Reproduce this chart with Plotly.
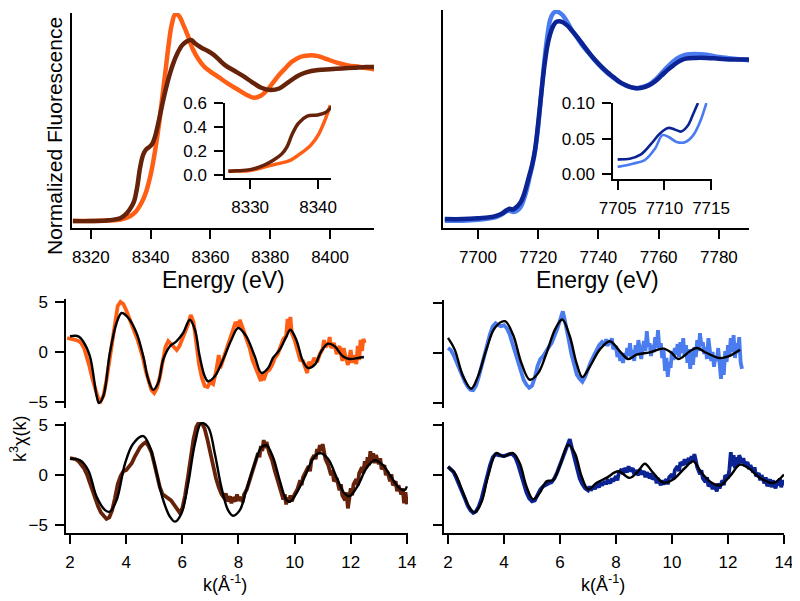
import plotly.graph_objects as go

# the page body adds an 8 px margin, so the figure is drawn 8 px smaller and shifted
OFF = 8
W, H = 800 - OFF, 601 - OFF

# ---- XANES, top left (Cu edge) ----
e_cu_orange = [8314, 8320, 8326, 8330, 8333, 8335, 8337, 8338.5, 8340, 8341, 8342, 8343, 8344, 8345, 8346,
               8347, 8348.3, 8349.5, 8351, 8352.5, 8354, 8356, 8358, 8360, 8363, 8366, 8369, 8372, 8374.5,
               8377, 8379, 8381, 8383, 8385, 8387, 8389, 8391, 8393, 8396, 8399, 8402, 8406, 8410, 8415]
mu_cu_orange = [0.0, 0.0, 0.003, 0.01, 0.03, 0.06, 0.12, 0.19, 0.30, 0.40, 0.52, 0.66, 0.82, 0.98, 1.14,
                1.27, 1.345, 1.33, 1.27, 1.20, 1.12, 1.05, 1.00, 0.97, 0.93, 0.89, 0.855, 0.82, 0.80,
                0.815, 0.85, 0.90, 0.95, 0.99, 1.03, 1.055, 1.07, 1.075, 1.07, 1.05, 1.03, 1.01, 1.00, 0.985]

e_cu_brown = [8314, 8320, 8326, 8330, 8332, 8333.5, 8334.5, 8335.5, 8336.5, 8337.5, 8338.5, 8339.5, 8340.5,
              8341.5, 8342.5, 8343.5, 8344.5, 8345.5, 8346.5, 8347.5, 8349, 8350.5, 8352, 8353.5, 8355,
              8357, 8359, 8361, 8363, 8365, 8368, 8371, 8374, 8377, 8380, 8383, 8386, 8389, 8392, 8396,
              8400, 8404, 8408, 8412, 8415]
mu_cu_brown = [0.0, 0.0, 0.005, 0.02, 0.05, 0.09, 0.13, 0.22, 0.35, 0.43, 0.465, 0.48, 0.50,
               0.55, 0.63, 0.72, 0.81, 0.89, 0.96, 1.02, 1.09, 1.14, 1.165, 1.175, 1.15,
               1.125, 1.105, 1.08, 1.045, 1.01, 0.975, 0.94, 0.90, 0.865, 0.85, 0.86, 0.90, 0.94, 0.965, 0.98,
               0.985, 0.99, 0.995, 1.0, 1.0]

# inset, pre-edge region
e_cu_in_orange = [8326.8, 8328, 8330, 8332.5, 8334.1, 8335.9, 8337.4, 8338.9, 8340.1, 8341.1, 8341.8]
mu_cu_in_orange = [0.028, 0.03, 0.035, 0.07, 0.092, 0.12, 0.176, 0.245, 0.34, 0.47, 0.58]
e_cu_in_brown = [8326.8, 8328, 8330, 8332, 8333.4, 8334.7, 8335.4, 8336.2, 8337.1, 8338.4, 8339.9, 8341.1, 8342]
mu_cu_in_brown = [0.028, 0.032, 0.042, 0.078, 0.12, 0.176, 0.23, 0.34, 0.43, 0.49, 0.50, 0.52, 0.57]

# ---- XANES, top right (Co edge) ----
e_co = [7689, 7695, 7700, 7704, 7706, 7708, 7709.5, 7710.5, 7711.5, 7712.5, 7714, 7715, 7716, 7717, 7718,
        7719, 7720, 7721, 7722, 7723, 7724, 7725, 7726, 7727, 7728, 7729.5, 7731, 7733, 7735, 7737, 7739,
        7741, 7743, 7745, 7747, 7749, 7751, 7753, 7755, 7757, 7759, 7761, 7763, 7765, 7767, 7769, 7772,
        7776, 7780, 7785, 7790]
mu_co_dark = [0.0, 0.0, 0.005, 0.012, 0.02, 0.035, 0.055, 0.065, 0.06, 0.07, 0.10, 0.14, 0.20, 0.27, 0.34,
              0.44, 0.60, 0.78, 0.95, 1.08, 1.16, 1.21, 1.235, 1.24, 1.235, 1.215, 1.185, 1.14, 1.09, 1.04, 0.995,
              0.955, 0.92, 0.89, 0.86, 0.84, 0.825, 0.82, 0.825, 0.84, 0.865, 0.90, 0.935, 0.965, 0.99, 1.005, 1.01,
              1.01, 1.005, 1.0, 1.0]
mu_co_light = [-0.01, -0.01, -0.005, 0.005, 0.012, 0.03, 0.05, 0.052, 0.045, 0.048, 0.07, 0.11, 0.17, 0.25, 0.33,
               0.43, 0.58, 0.78, 0.98, 1.14, 1.25, 1.29, 1.30, 1.295, 1.28, 1.24, 1.19, 1.135, 1.08, 1.035, 0.99,
               0.95, 0.915, 0.885, 0.858, 0.838, 0.825, 0.82, 0.83, 0.845, 0.875, 0.915, 0.955, 0.99, 1.015, 1.03, 1.035,
               1.03, 1.015, 1.005, 0.995]

e_co_in_dark = [7705, 7706.3, 7707.5, 7708.6, 7709.5, 7710.4, 7711.1, 7711.8, 7712.5, 7713.1, 7713.6]
mu_co_in_dark = [0.021, 0.022, 0.028, 0.043, 0.057, 0.065, 0.063, 0.06, 0.068, 0.085, 0.10]
e_co_in_light = [7705, 7706.6, 7707.9, 7709, 7709.8, 7710.5, 7711.3, 7712.2, 7713.1, 7713.8, 7714.5]
mu_co_in_light = [0.0105, 0.015, 0.02, 0.036, 0.055, 0.052, 0.0455, 0.045, 0.055, 0.073, 0.10]

# ---- EXAFS k^3 chi(k) ----
exafs_orange = [
    (1.9, 1.4), (2.0, 1.35), (2.1, 1.3), (2.2, 1.2), (2.3, 1.1), (2.4, 0.9), (2.5, 0.4), (2.6, -0.5),
    (2.7, -1.5), (2.8, -2.7), (2.9, -3.8), (3.0, -4.6), (3.1, -4.9), (3.2, -4.3), (3.3, -2.8), (3.4, -0.9),
    (3.5, 1.0), (3.6, 3.0), (3.7, 4.6), (3.8, 5.0), (3.9, 4.8), (4.0, 4.2), (4.1, 3.4), (4.2, 2.7),
    (4.3, 2.0), (4.4, 1.3), (4.5, 0.4), (4.6, -0.6), (4.7, -1.9), (4.8, -3.0), (4.9, -3.8), (5.0, -4.1),
    (5.1, -3.6), (5.2, -2.5), (5.3, -0.9), (5.4, 0.5), (5.5, 1.1), (5.6, 0.8), (5.7, 0.5), (5.8, 0.2),
    (5.9, 0.6), (6.0, 1.3), (6.1, 1.9), (6.2, 2.7), (6.3, 3.7), (6.4, 3.0), (6.5, 0.9), (6.6, -1.3),
    (6.7, -2.6), (6.8, -3.4), (6.9, -3.5), (7.0, -3.0), (7.1, -3.2), (7.2, -2.0), (7.3, -0.3), (7.35, -1.6),
    (7.4, -1.2), (7.5, -0.3), (7.6, 0.5), (7.7, 1.4), (7.8, 2.2), (7.9, 3.0), (8.0, 2.5), (8.05, 3.2),
    (8.1, 2.8), (8.2, 2.0), (8.3, 1.3), (8.4, 0.4), (8.5, -0.8), (8.6, -1.5), (8.7, -2.4), (8.8, -2.9),
    (8.85, -2.2), (8.9, -2.8), (9.0, -2.0), (9.1, -1.8), (9.2, -1.3), (9.3, -0.6), (9.4, -0.2), (9.5, 0.5),
    (9.6, 1.3), (9.7, 1.6), (9.75, 3.3), (9.8, 2.0), (9.85, 3.5), (9.9, 1.9), (10.0, 1.2), (10.1, 0.2),
    (10.2, -0.8), (10.3, -0.9), (10.4, -1.6), (10.45, -2.1), (10.5, -1.0), (10.6, -1.3), (10.7, -0.6),
    (10.8, -1.0), (10.9, -0.2), (11.0, 0.3), (11.05, 1.2), (11.1, 0.5), (11.2, 0.8), (11.25, 1.5),
    (11.3, 0.4), (11.4, 0.9), (11.5, -0.2), (11.6, 0.6), (11.7, -0.9), (11.75, 0.4), (11.8, -0.3),
    (11.9, -1.3), (12.0, 0.2), (12.05, -1.1), (12.1, -0.3), (12.2, -1.2), (12.25, 0.6), (12.3, -0.8),
    (12.35, 1.2), (12.4, 0.1), (12.45, 1.3), (12.5, 0.9)]
fit_orange = [
    (2.0, 1.57), (2.3, 1.57), (2.47, 1.07), (2.71, -0.43), (2.95, -4.4), (3.03, -5.1), (3.19, -4.4),
    (3.42, -0.1), (3.66, 2.9), (3.84, 3.9), (4.08, 3.4), (4.37, 1.9), (4.61, -0.43), (4.79, -2.77),
    (4.96, -3.77), (5.14, -3.1), (5.32, -0.77), (5.56, 0.57), (5.79, 1.07), (6.03, 1.9), (6.27, 3.23),
    (6.45, 2.23), (6.62, -0.43), (6.8, -2.43), (6.92, -2.93), (7.16, -2.43), (7.45, -0.77), (7.75, 1.23),
    (7.99, 2.4), (8.28, 1.57), (8.58, -0.43), (8.82, -2.1), (9.06, -1.6), (9.23, -0.6), (9.47, 0.23),
    (9.71, 1.57), (9.85, 2.23), (10.06, 1.23), (10.3, -0.93), (10.48, -1.6), (10.72, -1.27), (10.95, 0.07),
    (11.19, 0.83), (11.43, 0.57), (11.72, -0.43), (11.96, -0.7), (12.26, -0.6), (12.47, -0.5)]

exafs_brown = [
    (2.0, 1.7), (2.1, 1.65), (2.2, 1.6), (2.3, 1.4), (2.4, 1.1), (2.5, 0.7), (2.6, 0.1), (2.7, -0.7),
    (2.8, -1.6), (2.9, -2.4), (3.0, -3.1), (3.1, -3.7), (3.2, -4.1), (3.3, -4.35), (3.4, -4.2), (3.5, -3.5),
    (3.6, -2.3), (3.7, -0.9), (3.8, -0.1), (3.9, 0.4), (4.0, 0.5), (4.1, 0.8), (4.2, 1.2), (4.3, 1.8),
    (4.4, 2.3), (4.5, 2.8), (4.6, 3.1), (4.7, 3.3), (4.8, 2.9), (4.9, 2.3), (5.0, 1.2), (5.1, -0.1),
    (5.2, -1.2), (5.3, -1.9), (5.4, -2.1), (5.5, -2.2), (5.6, -2.5), (5.7, -2.9), (5.8, -3.3), (5.9, -3.7),
    (6.0, -3.3), (6.1, -2.0), (6.2, -0.2), (6.3, 1.9), (6.4, 3.6), (6.5, 4.8), (6.6, 5.3), (6.7, 5.2),
    (6.8, 4.6), (6.9, 3.5), (7.0, 2.2), (7.1, 0.9), (7.2, -0.3), (7.3, -1.2), (7.4, -1.9), (7.5, -2.3),
    (7.55, -1.8), (7.6, -2.6), (7.7, -2.1), (7.75, -2.8), (7.8, -2.2), (7.9, -2.6), (7.95, -1.9),
    (8.0, -2.5), (8.1, -2.2), (8.15, -2.7), (8.2, -1.9), (8.3, -1.4), (8.4, -0.5), (8.5, 0.4), (8.6, 1.2),
    (8.7, 2.2), (8.75, 1.8), (8.8, 2.9), (8.85, 2.4), (8.9, 3.5), (8.95, 2.7), (9.0, 3.3), (9.1, 2.2),
    (9.2, 1.5), (9.3, 0.4), (9.4, -0.6), (9.5, -1.5), (9.6, -2.4), (9.65, -1.9), (9.7, -2.9), (9.75, -2.2),
    (9.8, -2.7), (9.85, -2.0), (9.9, -2.6), (10.0, -1.9), (10.1, -1.4), (10.2, -0.5), (10.25, -1.0),
    (10.3, -0.2), (10.4, 0.3), (10.5, 0.9), (10.55, 0.4), (10.6, 1.5), (10.7, 2.0), (10.75, 1.6),
    (10.8, 2.6), (10.85, 2.1), (10.9, 3.0), (10.95, 2.4), (11.0, 3.1), (11.05, 2.0), (11.1, 1.6),
    (11.2, 1.0), (11.3, 0.0), (11.35, 0.5), (11.4, -0.6), (11.5, -0.3), (11.6, -1.5), (11.65, -0.9),
    (11.7, -2.0), (11.8, -2.5), (11.85, -1.7), (11.9, -3.3), (11.95, -2.4), (12.0, -1.3), (12.05, -2.0),
    (12.1, -0.9), (12.2, -0.4), (12.25, -1.0), (12.3, 0.2), (12.4, 0.8), (12.45, 0.2), (12.5, 1.4),
    (12.55, 0.7), (12.6, 1.8), (12.65, 1.0), (12.7, 2.4), (12.75, 1.3), (12.8, 2.2), (12.85, 1.2),
    (12.9, 2.0), (13.0, 1.1), (13.05, 1.7), (13.1, 0.6), (13.2, 1.0), (13.25, 0.0), (13.3, 0.4),
    (13.4, -0.6), (13.45, 0.1), (13.5, -1.0), (13.6, -0.6), (13.65, -1.6), (13.7, -1.0), (13.8, -1.9),
    (13.85, -1.3), (13.9, -2.8), (13.95, -1.7), (14.0, -2.9)]
fit_brown = [
    (2.0, 1.65), (2.36, 1.49), (2.65, 0.5), (2.95, -2.15), (3.25, -3.47), (3.42, -3.63), (3.66, -2.48),
    (3.96, 1.16), (4.25, 3.14), (4.61, 3.9), (4.85, 2.8), (5.09, 0.17), (5.32, -2.48), (5.56, -4.13),
    (5.74, -4.62), (5.97, -3.8), (6.21, -0.83), (6.45, 3.14), (6.68, 5.18), (6.92, 4.79), (7.16, 2.15),
    (7.39, -1.16), (7.63, -3.47), (7.81, -4.03), (8.05, -3.47), (8.28, -1.49), (8.58, 1.16), (8.82, 2.8),
    (9.0, 2.97), (9.23, 1.82), (9.47, -0.5), (9.71, -2.48), (9.83, -2.64), (10.06, -1.82), (10.36, -0.17),
    (10.66, 1.65), (10.89, 2.21), (11.19, 1.65), (11.49, -0.17), (11.78, -1.82), (11.96, -2.08),
    (12.26, -1.0), (12.55, 0.66), (12.85, 1.49), (13.15, 1.0), (13.44, -0.17), (13.74, -1.32),
    (13.92, -1.49), (14.0, -1.1)]

exafs_light = [
    (2.0, 0.5), (2.1, 0.3), (2.2, -0.2), (2.3, -0.9), (2.4, -1.6), (2.5, -2.3), (2.6, -2.9), (2.7, -3.4),
    (2.8, -3.7), (2.9, -3.75), (3.0, -3.3), (3.1, -2.4), (3.2, -1.3), (3.3, -0.2), (3.4, 0.9), (3.5, 1.9),
    (3.6, 2.7), (3.7, 3.0), (3.8, 2.8), (3.9, 2.7), (4.0, 2.8), (4.1, 2.5), (4.2, 1.9), (4.3, 1.0),
    (4.4, 0.0), (4.5, -1.0), (4.6, -1.9), (4.7, -2.7), (4.8, -3.2), (4.9, -3.5), (5.0, -3.3), (5.1, -2.5),
    (5.2, -1.3), (5.3, -0.6), (5.4, -0.3), (5.5, 0.2), (5.6, 0.6), (5.7, 1.0), (5.8, 1.6), (5.9, 2.4),
    (6.0, 3.3), (6.05, 3.8), (6.1, 4.2), (6.15, 3.6), (6.2, 3.0), (6.3, 1.5), (6.4, 0.0), (6.5, -1.2),
    (6.6, -2.2), (6.7, -2.6), (6.8, -2.9), (6.9, -2.4), (7.0, -1.6), (7.1, -0.9), (7.2, -0.3), (7.3, 0.3),
    (7.4, 0.8), (7.5, 1.1), (7.6, 0.8), (7.65, 1.4), (7.7, 0.7), (7.75, 1.3), (7.8, 0.9), (7.85, 1.5),
    (7.9, 0.4), (8.0, 0.7), (8.05, -0.4), (8.1, 0.2), (8.15, -0.8), (8.2, -0.1), (8.25, -1.0), (8.3, 0.0),
    (8.35, -0.6), (8.4, 0.5), (8.45, -0.3), (8.5, 1.0), (8.55, -0.5), (8.6, 0.3), (8.65, -0.8), (8.7, 0.8),
    (8.75, -0.2), (8.8, 1.3), (8.85, 0.1), (8.9, -0.6), (8.95, 0.4), (9.0, 1.2), (9.05, 0.2), (9.1, 2.2),
    (9.15, 0.6), (9.2, 1.0), (9.25, -0.3), (9.3, 0.8), (9.35, 0.1), (9.4, 1.6), (9.45, 0.5), (9.5, 2.3),
    (9.55, 0.4), (9.6, 1.0), (9.65, -0.5), (9.7, 0.3), (9.75, -1.8), (9.8, -0.5), (9.85, -2.4), (9.9, -0.9),
    (9.95, -1.5), (10.0, 0.2), (10.05, -0.7), (10.1, 0.5), (10.15, -0.2), (10.2, 0.9), (10.25, -0.4),
    (10.3, 1.1), (10.35, 0.0), (10.4, 1.5), (10.45, -0.3), (10.5, 0.8), (10.55, -1.0), (10.6, 0.4),
    (10.65, -1.6), (10.7, 0.1), (10.75, -1.2), (10.8, 0.6), (10.85, -0.4), (10.9, 1.3), (10.95, 0.2),
    (11.0, 2.0), (11.05, 0.7), (11.1, 1.1), (11.15, -0.1), (11.2, 0.6), (11.25, -0.6), (11.3, 1.5),
    (11.35, 0.3), (11.4, -0.8), (11.45, 0.1), (11.5, -1.4), (11.55, -0.3), (11.6, -0.8), (11.65, 0.5),
    (11.7, -1.1), (11.75, -2.6), (11.8, -0.6), (11.85, -2.2), (11.9, 0.2), (11.95, -0.9), (12.0, 0.8),
    (12.05, -0.2), (12.1, 1.5), (12.15, 0.1), (12.2, 1.8), (12.25, -0.5), (12.3, 1.0), (12.35, 0.0),
    (12.4, 1.6), (12.45, -0.9), (12.5, -1.6)]
fit_light = [
    (2.0, 1.52), (2.24, 0.34), (2.54, -2.36), (2.83, -3.6), (3.07, -2.36), (3.37, 0.34), (3.67, 2.53),
    (4.03, 3.21), (4.32, 1.86), (4.62, -1.01), (4.92, -2.7), (5.22, -2.03), (5.52, 0.0), (5.82, 2.36),
    (6.08, 3.38), (6.35, 1.69), (6.59, -1.01), (6.8, -2.43), (7.07, -1.35), (7.42, 0.34), (7.78, 1.18),
    (8.14, 0.17), (8.44, -0.61), (8.73, -0.17), (9.21, 0.07), (9.69, 0.44), (9.99, 0.0), (10.22, -0.61),
    (10.64, 0.17), (10.88, 0.5), (11.24, 0.0), (11.71, -0.51), (12.01, -0.34), (12.43, 0.34)]

exafs_dark = [
    (2.0, 0.85), (2.1, 0.6), (2.2, 0.3), (2.3, -0.3), (2.4, -0.9), (2.5, -1.6), (2.6, -2.3), (2.7, -3.0),
    (2.8, -3.5), (2.9, -3.75), (3.0, -3.6), (3.1, -3.1), (3.2, -2.3), (3.3, -1.2), (3.4, 0.0), (3.5, 1.0),
    (3.6, 1.8), (3.7, 2.1), (3.8, 2.0), (3.9, 1.9), (4.0, 1.9), (4.1, 2.0), (4.2, 2.1), (4.3, 2.1),
    (4.4, 1.8), (4.5, 1.1), (4.6, 0.1), (4.7, -0.9), (4.8, -1.7), (4.9, -2.3), (5.0, -2.6), (5.1, -2.5),
    (5.2, -1.9), (5.3, -1.4), (5.4, -1.1), (5.5, -0.9), (5.6, -0.8), (5.7, -0.7), (5.8, -0.3), (5.9, 0.3),
    (6.0, 1.0), (6.1, 1.8), (6.2, 2.6), (6.3, 3.2), (6.35, 3.6), (6.4, 3.0), (6.5, 2.0), (6.6, 0.8),
    (6.7, -0.3), (6.8, -0.9), (6.9, -1.3), (7.0, -1.5), (7.05, -1.1), (7.1, -1.5), (7.2, -1.1), (7.25, -1.4),
    (7.3, -0.9), (7.4, -1.2), (7.45, -0.7), (7.5, -1.0), (7.6, -0.6), (7.65, -0.9), (7.7, -0.5), (7.8, -0.8),
    (7.85, -0.3), (7.9, -0.6), (8.0, -0.1), (8.05, -0.5), (8.1, 0.2), (8.2, 0.6), (8.25, 0.1), (8.3, 0.7),
    (8.4, 0.3), (8.45, 0.9), (8.5, 0.4), (8.6, 0.7), (8.65, 0.1), (8.7, 0.5), (8.8, 0.0), (8.85, 0.6),
    (8.9, 0.1), (9.0, 0.4), (9.05, -0.2), (9.1, 0.3), (9.2, -0.3), (9.25, 0.2), (9.3, -0.4), (9.4, -0.1),
    (9.45, -0.8), (9.5, -0.3), (9.6, -1.0), (9.65, -0.5), (9.7, -0.9), (9.8, -0.4), (9.85, -0.9),
    (9.9, -0.2), (10.0, 0.1), (10.05, -0.4), (10.1, 0.5), (10.2, 0.9), (10.25, 0.4), (10.3, 1.3),
    (10.4, 1.0), (10.45, 1.6), (10.5, 1.1), (10.6, 1.7), (10.65, 1.2), (10.7, 1.9), (10.75, 1.4),
    (10.8, 2.1), (10.85, 1.2), (10.9, 0.8), (11.0, 0.1), (11.05, 0.5), (11.1, -0.3), (11.2, -0.7),
    (11.25, -0.2), (11.3, -1.1), (11.4, -0.8), (11.45, -1.4), (11.5, -0.9), (11.6, -1.6), (11.65, -0.8),
    (11.7, -1.3), (11.8, -0.5), (11.85, -1.0), (11.9, 0.0), (12.0, -0.3), (12.05, 0.6), (12.1, 2.3),
    (12.15, 0.9), (12.2, 2.0), (12.25, 0.7), (12.3, 1.8), (12.35, 1.0), (12.4, 2.0), (12.5, 1.2),
    (12.55, 1.7), (12.6, 0.9), (12.7, 1.3), (12.75, 0.6), (12.8, 1.0), (12.9, 0.3), (12.95, 0.8),
    (13.0, -0.1), (13.1, 0.2), (13.15, -0.5), (13.2, 0.0), (13.3, -0.8), (13.35, -0.2), (13.4, -1.1),
    (13.5, -0.4), (13.55, -1.2), (13.6, -0.5), (13.7, -1.3), (13.75, -0.6), (13.8, -1.0), (13.85, -0.3),
    (13.9, -1.2), (13.95, -0.5), (14.0, -1.0)]
fit_dark = [
    (2.0, 0.82), (2.24, 0.23), (2.54, -1.74), (2.77, -3.21), (2.95, -3.7), (3.19, -2.72), (3.43, -0.1),
    (3.73, 2.2), (3.97, 1.87), (4.32, 2.2), (4.56, 1.21), (4.8, -1.08), (5.04, -2.39), (5.28, -1.74),
    (5.52, -0.59), (5.75, -0.49), (5.99, 0.89), (6.29, 3.02), (6.53, 2.2), (6.77, -0.1), (7.01, -1.41),
    (7.31, -0.75), (7.66, -0.26), (8.08, 0.39), (8.49, -0.26), (8.79, 0.39), (9.03, 1.15), (9.33, 0.23),
    (9.69, -0.75), (10.04, -0.43), (10.46, 0.72), (10.76, 1.38), (11.06, 0.23), (11.42, -0.75),
    (11.71, -1.02), (12.07, -0.1), (12.43, 1.05), (12.73, 0.72), (13.14, -0.26), (13.62, -0.75), (14.0, 0.07)]

ORANGE = '#FF5F14'
BROWN = '#66230A'
LIGHT = '#4A7BEF'
DARK = '#0B2393'
FONT = 'Liberation Sans, Arial, sans-serif'

fig = go.Figure()


def line(x, y, ax, color, width, shape='linear'):
    fig.add_trace(go.Scatter(x=list(x), y=list(y), xaxis='x' + ax, yaxis='y' + ax, mode='lines',
                             line=dict(color=color, width=width, shape=shape), hoverinfo='skip'))


def pairs(p, ax, color, width, shape='linear'):
    k, chi = zip(*p)
    line(k, chi, ax, color, width, shape)


line(e_cu_orange, mu_cu_orange, '', ORANGE, 4.5, 'spline')
line(e_cu_brown, mu_cu_brown, '', BROWN, 4.5, 'spline')
line(e_cu_in_orange, mu_cu_in_orange, '2', ORANGE, 3.5, 'spline')
line(e_cu_in_brown, mu_cu_in_brown, '2', BROWN, 3.5, 'spline')
line(e_co, mu_co_light, '3', LIGHT, 4.5, 'spline')
line(e_co, mu_co_dark, '3', DARK, 4.5, 'spline')
line(e_co_in_light, mu_co_in_light, '4', LIGHT, 2.6, 'spline')
line(e_co_in_dark, mu_co_in_dark, '4', DARK, 2.6, 'spline')

pairs(exafs_orange, '5', ORANGE, 3.8)
pairs(fit_orange, '5', 'black', 2.4, 'spline')
pairs(exafs_brown, '6', BROWN, 3.8)
pairs(fit_brown, '6', 'black', 2.4, 'spline')
pairs(exafs_light, '7', LIGHT, 3.8)
pairs(fit_light, '7', 'black', 2.4, 'spline')
pairs(exafs_dark, '8', DARK, 3.8)
pairs(fit_dark, '8', 'black', 2.4, 'spline')

base = dict(showline=True, linecolor='black', linewidth=1.5, ticks='outside', ticklen=9, tickwidth=1.5,
            tickcolor='black', showgrid=False, zeroline=False, automargin=False, ticklabelstandoff=4,
            tickfont=dict(family=FONT, size=17, color='black'))


# positions below are pixel positions in the 800x601 window
def px_x(a, b):
    return [(a - OFF) / W, (b - OFF) / W]


def px_y(top, bottom):
    return [1 - (bottom - OFF) / H, 1 - (top - OFF) / H]


noy = dict(base, ticks='', showticklabels=False)
fig.update_layout(
    xaxis=dict(base, domain=px_x(72, 374), range=[8313.7, 8414.7], tickvals=[8320, 8340, 8360, 8380, 8400], anchor='y'),
    yaxis=dict(noy, domain=px_y(13, 228), range=[-0.045, 1.35], anchor='x'),
    xaxis2=dict(base, domain=px_x(225, 331), range=[8326.3, 8341.9], tickvals=[8330, 8340], anchor='y2'),
    yaxis2=dict(base, domain=px_y(103, 178), range=[-0.028, 0.6], tickvals=[0, 0.2, 0.4, 0.6],
                tickformat='.1f', anchor='x2'),
    xaxis3=dict(base, domain=px_x(443, 749), range=[7688.4, 7790], tickvals=[7700, 7720, 7740, 7760, 7780], anchor='y3'),
    yaxis3=dict(noy, domain=px_y(10, 228), range=[-0.056, 1.31], anchor='x3'),
    xaxis4=dict(base, domain=px_x(613, 712), range=[7704.5, 7715.1], tickvals=[7705, 7710, 7715], anchor='y4'),
    yaxis4=dict(base, domain=px_y(103, 179), range=[-0.0065, 0.10], tickvals=[0, 0.05, 0.1],
                tickformat='.2f', anchor='x4'),
    xaxis5=dict(base, domain=px_x(66, 408), range=[1.858, 14.04], visible=False, anchor='y5'),
    yaxis5=dict(base, domain=px_y(299, 408), range=[-5.6, 5.3], tickvals=[-5, 0, 5], anchor='x5'),
    xaxis6=dict(base, domain=px_x(66, 408), range=[1.858, 14.04], tickvals=[2, 4, 6, 8, 10, 12, 14], anchor='y6'),
    yaxis6=dict(base, domain=px_y(422, 533), range=[-5.75, 5.3], tickvals=[-5, 0, 5], anchor='x6'),
    xaxis7=dict(base, domain=px_x(444, 784), range=[1.857, 14.0], visible=False, anchor='y7'),
    yaxis7=dict(base, domain=px_y(300, 408), range=[-5.55, 5.35], tickvals=[-5, 0, 5], showticklabels=False, anchor='x7'),
    xaxis8=dict(base, domain=px_x(444, 784), range=[1.857, 14.0], tickvals=[2, 4, 6, 8, 10, 12, 14], anchor='y8'),
    yaxis8=dict(base, domain=px_y(422, 533), range=[-5.75, 5.3], tickvals=[-5, 0, 5], showticklabels=False, anchor='x8'),
)


def label(text, x, y, size, angle=0):
    fig.add_annotation(text=text, x=(x - OFF) / W, y=1 - (y - OFF) / H, xref='paper', yref='paper',
                       showarrow=False, xanchor='center', yanchor='middle', textangle=angle,
                       font=dict(family=FONT, size=size, color='black'))


label('Normalized Fluorescence', 54, 136, 21, -90)
label('Energy (eV)', 224, 280, 23)
label('Energy (eV)', 597, 280, 23)
label('k<sup>3</sup>χ(k)', 18, 439, 18, -90)
label('k(Å<sup>-1</sup>)', 225, 583, 18)
label('k(Å<sup>-1</sup>)', 603, 583, 18)

fig.update_layout(width=W, height=H, margin=dict(l=0, r=0, t=0, b=0), showlegend=False, template='none',
                  paper_bgcolor='white', plot_bgcolor='rgba(0,0,0,0)', font=dict(family=FONT, color='black'))

fig.write_html("out.html")
